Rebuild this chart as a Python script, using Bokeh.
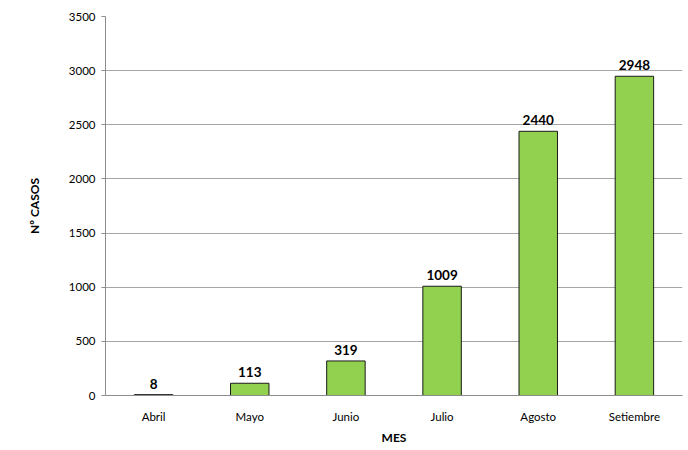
from bokeh.plotting import figure
from bokeh.models import ColumnDataSource, FixedTicker, Range1d, FactorRange
from bokeh.core.properties import value
from bokeh.embed import file_html
from bokeh.resources import INLINE

meses = ["Abril", "Mayo", "Junio", "Julio", "Agosto", "Setiembre"]
casos = [8, 113, 319, 1009, 2440, 2948]
y_ticks = [0, 500, 1000, 1500, 2000, 2500, 3000, 3500]

src = ColumnDataSource(dict(mes=meses, casos=casos, lbl=[str(c) for c in casos]))

p = figure(x_range=FactorRange(*meses, range_padding=0), y_range=Range1d(0, 3500),
           width=688, height=450, output_backend="svg", toolbar_location=None,
           min_border_left=105, min_border_right=6, min_border_top=16, min_border_bottom=55)

p.vbar(x="mes", top="casos", width=0.4, source=src, fill_color="#92D050",
       line_color="#1a1a1a", line_width=1)
p.text(x="mes", y="casos", text="lbl", source=src, text_align="center",
       text_baseline="bottom", y_offset=-6, text_font=value("Lato"),
       text_font_size="13.5px", text_font_style="bold", text_color="black")

p.outline_line_color = None
p.background_fill_color = "white"
p.xgrid.grid_line_color = None
p.ygrid.grid_line_color = "#a6a6a6"
p.ygrid.grid_line_width = 1
p.yaxis.ticker = FixedTicker(ticks=y_ticks)

for ax in (p.xaxis[0], p.yaxis[0]):
    ax.axis_line_color = "#8c8c8c"
    ax.major_label_text_font = "Lato"
    ax.major_label_text_color = "black"
    ax.axis_label_text_font = "Lato"
    ax.axis_label_text_font_style = "bold"
    ax.axis_label_text_font_size = "12px"
    ax.axis_label_text_color = "black"
    ax.minor_tick_line_color = None

p.yaxis.major_label_text_font_size = "11.5px"
p.yaxis.major_tick_line_color = "#8c8c8c"
p.yaxis.major_tick_out = 4
p.yaxis.major_tick_in = 0
p.yaxis.major_label_standoff = 6
p.yaxis.axis_label = "Nº CASOS"
p.yaxis.axis_label_standoff = 24

p.xaxis.major_label_text_font_size = "11.5px"
p.xaxis.major_tick_line_color = None
p.xaxis.major_label_standoff = 8
p.xaxis.axis_label = "MES"
p.xaxis.axis_label_standoff = 4

open("out.html", "w").write(file_html(p, INLINE))
